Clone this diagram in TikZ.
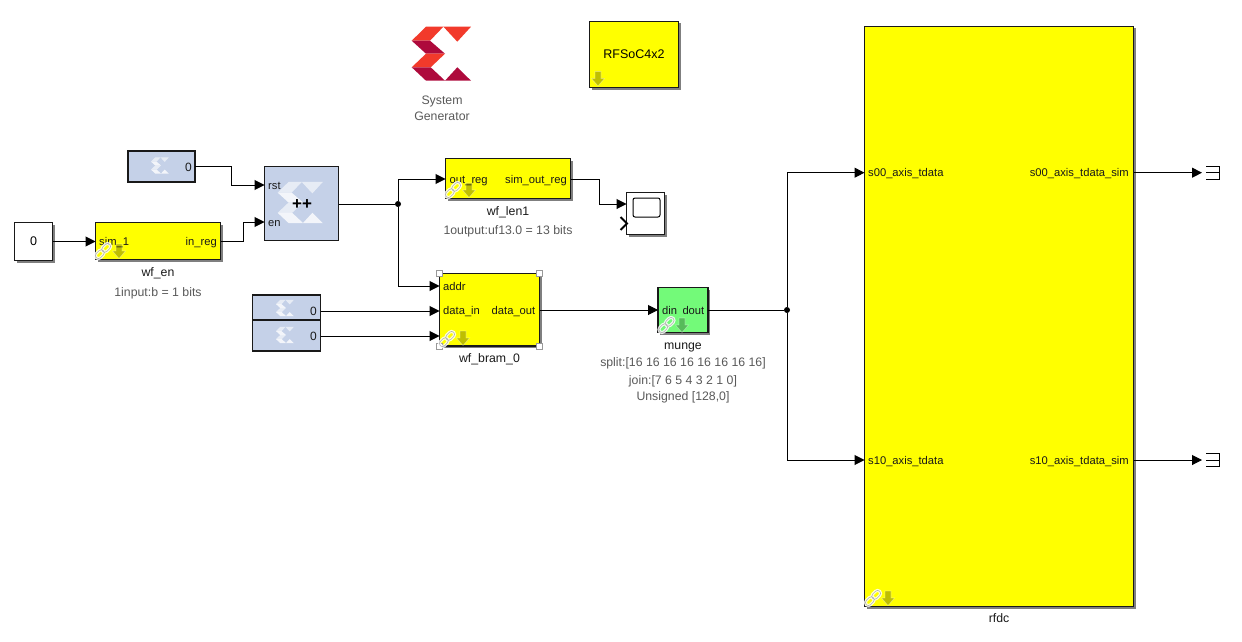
\documentclass[tikz,border=0pt]{standalone}
\usepackage{fontspec}
\setmainfont{Liberation Sans}
\usepackage{tikz}
\usetikzlibrary{positioning,arrows.meta,shadows}

\definecolor{xred}{HTML}{F23A2B}
\definecolor{xdark}{HTML}{AE0A3C}
\definecolor{xblue}{HTML}{C5D1E8}
\definecolor{blockyellow}{HTML}{FFFF00}
\definecolor{mungegreen}{HTML}{73FA79}
\definecolor{greytext}{HTML}{595959}

\begin{document}
\begin{tikzpicture}[
	x=1pt, y=-1pt,
	box/.style={draw=black!90, line width=1.4pt, rectangle, anchor=north west, inner sep=0pt, outer sep=0pt},
	shadowed/.style={drop shadow={shadow xshift=2pt, shadow yshift=-2pt, opacity=.5, fill=black}},
	sub_block/.style={box, shadowed, fill=blockyellow},
	const_block/.style={box, fill=xblue},
	port/.style={inner sep=0pt, font=\fontsize{11.2}{12}\selectfont, text height=8pt, text depth=0pt, text=black!90},
	caption/.style={inner sep=0pt, font=\fontsize{12.3}{14}\selectfont, text height=9pt, text depth=3pt, text=black!90},
	info/.style={caption, text=greytext},
	wire/.style={line width=1pt, -{Triangle[length=10pt, width=10pt]}},
	plain_wire/.style={line width=1pt},
	dot/.style={circle, fill=black, inner sep=0pt, minimum size=6pt},
	handle/.style={draw=gray!80, fill=white, line width=.8pt, rectangle, inner sep=0pt, minimum size=6pt},
	sink/.style={inner sep=0pt, outer sep=0pt, minimum width=13pt, minimum height=13pt, anchor=west},
	xtop/.style={fill=xred},
	xbot/.style={fill=xdark},
	pale/.style={xtop/.style={fill=white, fill opacity=.6}, xbot/.style={fill=white, fill opacity=.8}},
	xlogo/.pic={
		\path[xtop] (-30,-13) -- (-15.7,-27) -- (1.7,-27) -- (-11.7,-13) -- cycle;
		\path[xbot] (-30,-13) -- (-11.7,-13) -- (3.3,0) -- (-15.7,0) -- cycle;
		\path[xtop] (-15.7,0) -- (3.3,0) -- (-11,13.6) -- (-30,13.6) -- cycle;
		\path[xbot] (-30,13.6) -- (-11,13.6) -- (3.3,27) -- (-15.7,27) -- cycle;
		\path[xtop] (1.7,-27) -- (29.3,-27) -- (15.6,-12) -- cycle;
		\path[xbot] (3.3,27) -- (15.6,13.6) -- (29.3,27) -- cycle;
	},
	libarrow/.pic={
		\path[fill=black, fill opacity=.25, draw=white, draw opacity=.35, line width=.7pt]
			(-3,-7) -- (3,-7) -- (3,0) -- (6.5,0) -- (0,7.5) -- (-6.5,0) -- (-3,0) -- cycle;
	},
	liblink/.pic={
		\draw[rounded corners=3pt, draw=white, line width=3pt, opacity=.85, rotate=45]
			(-9.5,-3) rectangle (.5,3) (-.5,-3) rectangle (9.5,3);
		\draw[rounded corners=3pt, draw=gray!60, line width=.6pt, rotate=45]
			(-9.5,-3) rectangle (.5,3) (-.5,-3) rectangle (9.5,3);
	}
	]

	\useasboundingbox (0,0) rectangle (1242,642);

	% Logo and its label
	\pic at (441.7,53.7) {xlogo};
	\node[info] (sysgen_a) at (442,101) {System};
	\node[info] (sysgen_b) at (442,117) {Generator};

	% Platform block
	\node[sub_block, minimum width=89pt, minimum height=66pt, font=\fontsize{12.5}{14}\selectfont] (rfsoc) at (589.5,21.5) {RFSoC4x2};

	% Left column
	\node[box, shadowed, fill=white, minimum width=38pt, minimum height=38pt, font=\fontsize{12.5}{14}\selectfont] (const_src) at (14.5,222.5) {0};
	\node[sub_block, minimum width=125pt, minimum height=37pt] (wf_en) at (95.5,222.5) {};
	\node[const_block, minimum width=67pt, minimum height=31pt] (const_rst) at (128,151) {};
	\node[box, fill=xblue, minimum width=74pt, minimum height=74pt] (counter) at (264.5,166.5) {};
	\node[const_block, minimum width=68pt, minimum height=25pt] (const_data) at (252.5,295) {};
	\node[const_block, minimum width=68pt, minimum height=31pt] (const_we) at (252.5,320) {};

	% Middle column
	\node[sub_block, minimum width=125pt, minimum height=40pt] (wf_len1) at (445.5,158.5) {};
	\node[box, shadowed, fill=white, line width=1pt, minimum width=38pt, minimum height=42pt] (scope) at (626.5,192.5) {};
	\node[sub_block, minimum width=100pt, minimum height=72.5pt] (wf_bram_0) at (439.5,273.5) {};
	\node[box, shadowed, fill=mungegreen, minimum width=50pt, minimum height=45pt] (munge) at (658,287.5) {};

	% Right block
	\node[sub_block, minimum width=269pt, minimum height=580pt] (rfdc) at (864.5,26.5) {};

	% Sink blocks
	\node[sink] (sink_0) at (1206,172.7) {};
	\node[sink] (sink_1) at (1206,460) {};
	\draw[plain_wire] (sink_0.north west) -- (sink_0.north east) -- (sink_0.south east) -- (sink_0.south west);
	\draw[plain_wire] (sink_0.west) -- (sink_0.east);
	\draw[plain_wire] (sink_1.north west) -- (sink_1.north east) -- (sink_1.south east) -- (sink_1.south west);
	\draw[plain_wire] (sink_1.west) -- (sink_1.east);

	% Scope face
	\draw[line width=1pt, rounded corners=2pt] (633,198) rectangle (660,217);
	\draw[line width=1.8pt] (620.5,217) -- (627,223.5) -- (620.5,230);

	% Logos inside the constants and the counter
	\pic[pale, scale=.3] at (160,165.5) {xlogo};
	\pic[pale, scale=.3] at (285,308) {xlogo};
	\pic[pale, scale=.3] at (285,335) {xlogo};
	\pic[pale, scale=.76] at (300.5,202.5) {xlogo};

	% Constant values
	\node[port, font=\fontsize{12}{14}\selectfont, anchor=east] (const_rst_val) at (192,167) {0};
	\node[port, font=\fontsize{12}{14}\selectfont, anchor=east] (const_data_val) at (317,311) {0};
	\node[port, font=\fontsize{12}{14}\selectfont, anchor=east] (const_we_val) at (317,336) {0};
	\node[inner sep=0pt, font=\fontsize{17}{18}\selectfont\bfseries] (counter_op) at (302,205) {++};

	% Port labels
	\node[port, anchor=west] (en_in) at (99,241) {sim\_1};
	\node[port, anchor=east] (en_out) at (217,241) {in\_reg};
	\node[port, anchor=west] (cnt_rst) at (268,185) {rst};
	\node[port, anchor=west] (cnt_en) at (268,222) {en};
	\node[port, anchor=west] (len_in) at (449.5,179) {out\_reg};
	\node[port, anchor=east] (len_out) at (567,179) {sim\_out\_reg};
	\node[port, anchor=west] (bram_addr) at (443,286) {addr};
	\node[port, anchor=west] (bram_in) at (443,310.5) {data\_in};
	\node[port, anchor=east] (bram_out) at (535.5,310.5) {data\_out};
	\node[port, anchor=west] (munge_in) at (662,310) {din};
	\node[port, anchor=east] (munge_out) at (704.5,310) {dout};
	\node[port, anchor=west] (s00_in) at (868,172.7) {s00\_axis\_tdata};
	\node[port, anchor=east] (s00_out) at (1129,172.7) {s00\_axis\_tdata\_sim};
	\node[port, anchor=west] (s10_in) at (868,460) {s10\_axis\_tdata};
	\node[port, anchor=east] (s10_out) at (1129,460) {s10\_axis\_tdata\_sim};

	% Captions
	\node[caption, below=8pt of wf_en] (wf_en_name) {wf\_en};
	\node[info, below=7pt of wf_en_name] (wf_en_info) {1input:b = 1 bits};
	\node[caption, below=8pt of wf_len1] (wf_len1_name) {wf\_len1};
	\node[info, below=6.5pt of wf_len1_name] (wf_len1_info) {1output:uf13.0 = 13 bits};
	\node[caption, below=7.5pt of wf_bram_0] (wf_bram_name) {wf\_bram\_0};
	\node[caption, below=7.5pt of munge] (munge_name) {munge};
	\node[info, below=5pt of munge_name] (munge_split) {split:[16 16 16 16 16 16 16 16]};
	\node[info, below=5pt of munge_split] (munge_join) {join:[7 6 5 4 3 2 1 0]};
	\node[info, below=4pt of munge_join] (munge_type) {Unsigned [128,0]};
	\node[caption, below=6.5pt of rfdc] (rfdc_name) {rfdc};

	% Corner handles
	\foreach \corner in {north west, north east, south west, south east}
		\node[handle] (handle \corner) at (wf_bram_0.\corner) {};

	% Library icons
	\pic at (598,78.5) {libarrow};
	\foreach \ix/\iy in {103/251, 453/190, 447/339, 666.5/325, 873/598}
		\pic at (\ix,\iy) {liblink};
	\foreach \ix/\iy in {119/251, 469/190, 463/338, 682/325, 888/598}
		\pic at (\ix,\iy) {libarrow};

	% Junctions
	\node[dot] (count_dot) at (398,204) {};
	\node[dot] (munge_dot) at (787,310) {};

	% Connections
	\draw[wire] (const_src.east) -- (wf_en.west |- const_src.east);
	\draw[wire] (const_rst.east) -- ++(36,0) |- (counter.west |- cnt_rst);
	\draw[wire] (wf_en.east |- en_out) -- ++(23,0) |- (counter.west |- cnt_en);
	\draw[plain_wire] (counter.east |- count_dot) -- (count_dot);
	\draw[wire] (count_dot) |- (wf_len1.west |- len_in);
	\draw[wire] (count_dot) |- (wf_bram_0.west |- bram_addr);
	\draw[wire] (wf_len1.east |- len_out) -- ++(29,0) |- (scope.west |- count_dot);
	\draw[wire] (const_data.east |- const_data_val) -- (wf_bram_0.west |- const_data_val);
	\draw[wire] (const_we.east |- const_we_val) -- (wf_bram_0.west |- const_we_val);
	\draw[wire] (wf_bram_0.east |- munge_in) -- (munge.west |- munge_in);
	\draw[plain_wire] (munge.east |- munge_dot) -- (munge_dot);
	\draw[wire] (munge_dot) |- (rfdc.west |- s00_in);
	\draw[wire] (munge_dot) |- (rfdc.west |- s10_in);
	\draw[wire] (rfdc.east |- s00_out) -- ([xshift=-4pt]sink_0.west);
	\draw[wire] (rfdc.east |- s10_out) -- ([xshift=-4pt]sink_1.west);

\end{tikzpicture}
\end{document}
